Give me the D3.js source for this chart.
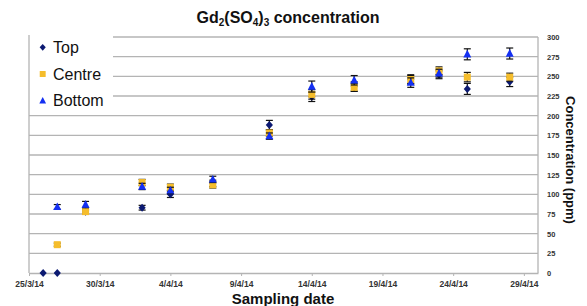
<!DOCTYPE html>
<html><head><meta charset="utf-8">
<script src="https://cdn.jsdelivr.net/npm/d3@7"></script>
<style>body{margin:0;background:#fff}svg{display:block;font-family:"Liberation Sans",Arial,sans-serif}</style>
</head><body><svg id="c" width="587" height="306"></svg>
<script>
const dates = ["2014-03-26","2014-03-27","2014-03-29","2014-04-02","2014-04-04","2014-04-07","2014-04-11","2014-04-14","2014-04-17","2014-04-21","2014-04-23","2014-04-25","2014-04-28"];
const topVals    = [0, 0, 78, 83, 100, 114, 188, 224, 237, 246, 252, 234, 243];
const topErr     = [0, 0, 2, 3, 4, 4, 6, 6, 6, 6, 5, 7, 6];
const centreVals = [null, 36, 78, 115, 109, 112, 178, 227, 236, 246, 257, 249, 249];
const centreErr  = [0, 2, 3, 4, 4, 4, 4, 6, 5, 5, 5, 6, 5];
const bottomVals = [null, 84, 87, 110, 105, 119, 174, 237, 245, 242, 254, 278, 279];
const bottomErr  = [0, 3, 4, 4, 4, 4, 4, 7, 6, 6, 5, 7, 7];
const xTickDates = ["2014-03-25","2014-03-30","2014-04-04","2014-04-09","2014-04-14","2014-04-19","2014-04-24","2014-04-29"];
const yTicks = [0,25,50,75,100,125,150,175,200,225,250,275,300];
const seriesNames = ["Top","Centre","Bottom"];

const parse = d3.timeParse("%Y-%m-%d");
const fmt = d3.timeFormat("%-d/%-m/%y");
const svg = d3.select("#c");
const L = 29, R = 538, T = 37, B = 273;
const x = d3.scaleTime().domain([parse("2014-03-25"), parse("2014-04-30")]).range([L, R]);
const y = d3.scaleLinear().domain([0, 300]).range([B, T]);
const grid = "#b4b4b4";

// gridlines
svg.append("g").selectAll("line").data(yTicks.filter(v=>v>0)).join("line")
  .attr("x1", L).attr("x2", R).attr("y1", d=>y(d)).attr("y2", d=>y(d))
  .attr("stroke", grid).attr("stroke-width", 1.3);
// right border
svg.append("line").attr("x1", R).attr("x2", R).attr("y1", T).attr("y2", B).attr("stroke", grid).attr("stroke-width",1.3);

// right y axis labels
const ya = d3.axisRight(y).tickValues(yTicks).tickSize(0).tickPadding(9);
const yg = svg.append("g").attr("transform", `translate(${R},0)`).call(ya);
yg.select(".domain").remove();
yg.selectAll("text").attr("font-size", 7.5).attr("font-weight","bold").attr("fill","#333")
  .attr("font-family","Liberation Sans, Arial, sans-serif");

// bottom x axis
const xa = d3.axisBottom(x).tickValues(xTickDates.map(parse)).tickFormat(fmt).tickSize(3).tickSizeOuter(0).tickPadding(5);
const xg = svg.append("g").attr("transform", `translate(0,${B})`).call(xa);
xg.select(".domain").attr("stroke", grid).attr("stroke-width",1.3);
xg.selectAll(".tick line").attr("stroke", grid);
xg.selectAll("text").attr("font-size", 8.5).attr("font-weight","bold").attr("fill","#333")
  .attr("font-family","Liberation Sans, Arial, sans-serif");

// legend box (covers gridlines)
svg.append("rect").attr("x", L).attr("y", 30).attr("width", 84).attr("height", 80).attr("fill","#fff");
// left axis line
svg.append("line").attr("x1", L).attr("x2", L).attr("y1", T-2).attr("y2", B).attr("stroke", grid).attr("stroke-width",1.3);

const shapes = {
  Top: "M0,-4L3.6,0L0,4L-3.6,0Z",
  Centre: "M-3.5,-3.5H3.5V3.5H-3.5Z",
  Bottom: "M0,-4.5L4,3.2L-4,3.2Z"
};
const colors = {Top:"#0c1a72", Centre:"#f5bd2c", Bottom:"#1430f2"};
const data = {Top:[topVals, topErr], Centre:[centreVals, centreErr], Bottom:[bottomVals, bottomErr]};

seriesNames.forEach(name => {
  const [vals, errs] = data[name];
  const pts = dates.map((d,i)=>({d:parse(d), v:vals[i], e:errs[i]})).filter(p=>p.v!==null);
  const g = svg.append("g");
  const eb = g.selectAll("g.eb").data(pts.filter(p=>p.e>0)).join("g").attr("stroke","#111").attr("stroke-width",1.2);
  eb.append("line").attr("x1",p=>x(p.d)).attr("x2",p=>x(p.d)).attr("y1",p=>y(p.v-p.e)).attr("y2",p=>y(p.v+p.e));
  eb.append("line").attr("x1",p=>x(p.d)-3.5).attr("x2",p=>x(p.d)+3.5).attr("y1",p=>y(p.v-p.e)).attr("y2",p=>y(p.v-p.e));
  eb.append("line").attr("x1",p=>x(p.d)-3.5).attr("x2",p=>x(p.d)+3.5).attr("y1",p=>y(p.v+p.e)).attr("y2",p=>y(p.v+p.e));
  g.selectAll("path").data(pts).join("path").attr("d", shapes[name])
    .attr("transform", p=>`translate(${x(p.d)},${y(p.v)})`).attr("fill", colors[name]);
});

// legend
const leg = svg.append("g");
seriesNames.forEach((name,i)=>{
  const cy = 47.3 + i*26.7;
  leg.append("path").attr("d", shapes[name]).attr("transform",`translate(42.7,${cy}) scale(0.85)`).attr("fill", colors[name]);
  leg.append("text").attr("x",53).attr("y",cy+5.7).attr("font-size",16).attr("fill","#111").text(name);
});

// title with subscripts
const t = svg.append("text").attr("x", 288).attr("y", 23).attr("text-anchor","middle")
  .attr("font-size",16).attr("font-weight","bold").attr("fill","#111");
const parts = [["Gd",0],["2",1],["(SO",0],["4",1],[")",0],["3",1],[" concentration",0]];
let prevSub = false;
parts.forEach(([s,sub])=>{
  const ts = t.append("tspan").text(s);
  if (sub) ts.attr("font-size",10);
  ts.attr("dy", sub && !prevSub ? 3 : (!sub && prevSub ? -3 : 0));
  prevSub = !!sub;
});

// axis titles
svg.append("text").attr("x", 283).attr("y", 304).attr("text-anchor","middle")
  .attr("font-size",15).attr("font-weight","bold").attr("fill","#111").text("Sampling date");
svg.append("text").attr("transform","translate(566,160) rotate(90)").attr("text-anchor","middle")
  .attr("font-size",13).attr("font-weight","bold").attr("fill","#111").text("Concentration (ppm)");
</script></body></html>
